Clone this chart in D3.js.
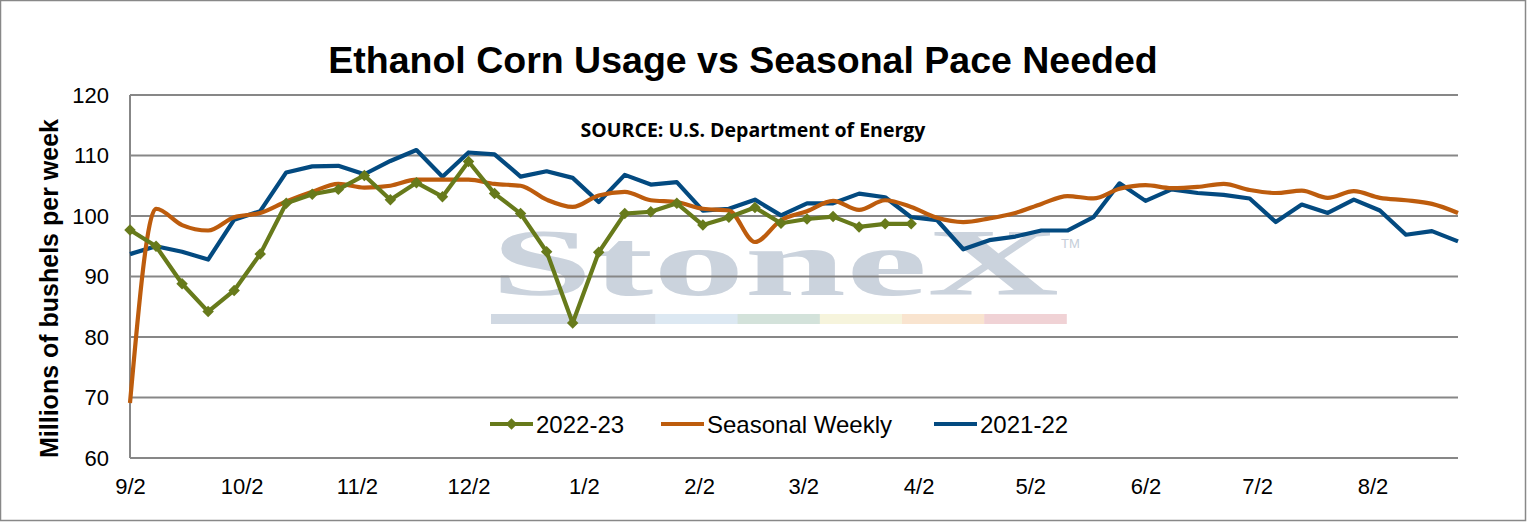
<!DOCTYPE html>
<html>
<head>
<meta charset="utf-8">
<script src="https://cdn.jsdelivr.net/npm/d3@7"></script>
<style>
  body { margin: 0; background: #fff; }
  text { font-family: "Liberation Sans", Arial, sans-serif; }
</style>
</head>
<body>
<div id="chart"></div>
<script>
// weekly dates (Fridays)
var weeks = ["2022-09-02","2022-09-09","2022-09-16","2022-09-23","2022-09-30",
  "2022-10-07","2022-10-14","2022-10-21","2022-10-28",
  "2022-11-04","2022-11-11","2022-11-18","2022-11-25",
  "2022-12-02","2022-12-09","2022-12-16","2022-12-23","2022-12-30",
  "2023-01-06","2023-01-13","2023-01-20","2023-01-27",
  "2023-02-03","2023-02-10","2023-02-17","2023-02-24",
  "2023-03-03","2023-03-10","2023-03-17","2023-03-24","2023-03-31",
  "2023-04-07","2023-04-14","2023-04-21","2023-04-28",
  "2023-05-05","2023-05-12","2023-05-19","2023-05-26",
  "2023-06-02","2023-06-09","2023-06-16","2023-06-23","2023-06-30",
  "2023-07-07","2023-07-14","2023-07-21","2023-07-28",
  "2023-08-04","2023-08-11","2023-08-18","2023-08-25"];

// millions of bushels per week
var usage2223 = [97.7, 95.0, 88.8, 84.2, 87.7, 93.7, 102.1, 103.6, 104.4, 106.7,
  102.7, 105.5, 103.2, 109.0, 103.7, 100.4, 94.1, 82.3, 94.0, 100.4,
  100.7, 102.1, 98.5, 99.8, 101.4, 98.8, 99.5, 99.9, 98.2, 98.7, 98.7];

var seasonal = [69.1, 101.2, 98.5, 97.6, 99.8, 100.5, 102.4, 104.0, 105.3, 104.7,
  105.0, 106.0, 106.0, 106.0, 105.3, 105.0, 102.7, 101.5, 103.4, 104.0,
  102.6, 102.3, 101.2, 100.9, 95.7, 99.3, 100.8, 102.5, 101.0, 102.6,
  101.5, 99.7, 99.0, 99.6, 100.5, 102.0, 103.3, 102.9, 104.5, 105.1,
  104.6, 104.8, 105.3, 104.3, 103.8, 104.2, 103.0, 104.1, 103.0, 102.6,
  102.0, 100.5];

var usage2122 = [93.7, 95.0, 94.1, 92.8, 99.4, 100.8, 107.2, 108.2, 108.3, 106.9,
  109.1, 110.9, 106.5, 110.5, 110.2, 106.5, 107.4, 106.3, 102.3, 106.8,
  105.2, 105.6, 100.9, 101.2, 102.7, 100.1, 102.1, 102.1, 103.7, 103.1,
  99.8, 99.3, 94.5, 96.0, 96.6, 97.6, 97.6, 99.8, 105.4, 102.5,
  104.4, 103.8, 103.5, 102.9, 99.0, 101.9, 100.5, 102.7, 100.9, 96.9,
  97.5, 95.8];

var tickDates = ["2022-09-02","2022-10-02","2022-11-02","2022-12-02","2023-01-02",
  "2023-02-02","2023-03-02","2023-04-02","2023-05-02","2023-06-02","2023-07-02","2023-08-02"];
var tickLabels = ["9/2","10/2","11/2","12/2","1/2","2/2","3/2","4/2","5/2","6/2","7/2","8/2"];
var yTicks = [60, 70, 80, 90, 100, 110, 120];

var W = 1527, H = 522;
var margin = {top: 95, right: 69, bottom: 64, left: 130};
var width = W - margin.left - margin.right;
var height = H - margin.top - margin.bottom;

var parse = d3.timeParse("%Y-%m-%d");
var dates = weeks.map(parse);

var svg = d3.select("#chart").append("svg")
    .attr("width", W)
    .attr("height", H);

// outer frame
svg.append("rect")
    .attr("x", 0.5).attr("y", 0.5)
    .attr("width", W - 2).attr("height", H - 2)
    .attr("fill", "#fff")
    .attr("stroke", "#888")
    .attr("stroke-width", 1.5);

svg.append("text")
    .attr("x", 743).attr("y", 73)
    .attr("text-anchor", "middle")
    .style("font-size", "37.5px")
    .style("font-weight", "bold")
    .text("Ethanol Corn Usage vs Seasonal Pace Needed");

var g = svg.append("g")
    .attr("transform", "translate(" + margin.left + "," + margin.top + ")");

var x = d3.scaleTime()
    .domain([dates[0], dates[dates.length - 1]])
    .range([0, width]);

var y = d3.scaleLinear()
    .domain([60, 120])
    .range([height, 0]);

// watermark
var wm = g.append("g");
wm.append("text")
    .attr("x", 491 - margin.left).attr("y", 295 - margin.top)
    .attr("textLength", 568)
    .attr("lengthAdjust", "spacingAndGlyphs")
    .style("font-family", "'Liberation Serif', 'DejaVu Serif', serif")
    .style("font-size", "96px")
    .style("font-weight", "bold")
    .attr("fill", "#cbd3dd")
    .text("StoneX");
wm.append("text")
    .attr("x", 1061 - margin.left).attr("y", 248 - margin.top)
    .style("font-size", "13px")
    .attr("fill", "#c5ced9")
    .text("TM");
var barColors = ["#d0d8e2", "#d0d8e2", "#dce8f2", "#d3e2da", "#f6f4dc", "#f9e4cf", "#f0d2d5"];
wm.selectAll("rect.band")
    .data(barColors)
    .enter().append("rect")
    .attr("class", "band")
    .attr("x", function(d, i) { return 491 - margin.left + i * 82.2; })
    .attr("y", 314 - margin.top)
    .attr("width", 82.6)
    .attr("height", 10)
    .attr("fill", function(d) { return d; });

// gridlines
g.append("g")
  .selectAll("line")
  .data(yTicks)
  .enter().append("line")
    .attr("x1", 0).attr("x2", width)
    .attr("y1", function(d) { return y(d); })
    .attr("y2", function(d) { return y(d); })
    .attr("stroke", "#878787")
    .attr("stroke-width", 2);

// axes
g.append("line")
    .attr("x1", 0).attr("x2", 0)
    .attr("y1", 0).attr("y2", height)
    .attr("stroke", "#878787")
    .attr("stroke-width", 2);

var yAxis = g.append("g")
    .call(d3.axisLeft(y).tickValues(yTicks).tickSize(0).tickPadding(21));
yAxis.select(".domain").remove();
yAxis.selectAll("text")
    .style("font-family", "'Liberation Sans', Arial, sans-serif")
    .style("font-size", "22px")
    .attr("fill", "#000");

var xAxis = g.append("g")
    .attr("transform", "translate(0," + height + ")")
    .call(d3.axisBottom(x)
        .tickValues(tickDates.map(parse))
        .tickFormat(function(d, i) { return tickLabels[i]; })
        .tickSize(0).tickPadding(20));
xAxis.select(".domain").remove();
xAxis.selectAll("text")
    .style("font-family", "'Liberation Sans', Arial, sans-serif")
    .style("font-size", "22px")
    .attr("fill", "#000");

svg.append("text")
    .attr("transform", "translate(58," + (margin.top + height / 2 + 12) + ") rotate(-90)")
    .attr("text-anchor", "middle")
    .style("font-size", "25px")
    .style("font-weight", "bold")
    .text("Millions of bushels per week");

svg.append("text")
    .attr("x", 753).attr("y", 137)
    .attr("text-anchor", "middle")
    .style("font-family", "'Open Sans', sans-serif")
    .style("font-size", "19.5px")
    .style("font-weight", "bold")
    .text("SOURCE: U.S. Department of Energy");

// series
var colGreen = "#677a1b", colOrange = "#bd5c0d", colBlue = "#034a80";

var line = d3.line()
    .x(function(d, i) { return x(dates[i]); })
    .y(function(d) { return y(d); });

g.append("path")
    .datum(usage2122)
    .attr("fill", "none")
    .attr("stroke", colBlue)
    .attr("stroke-width", 4.2)
    .attr("stroke-linejoin", "round")
    .attr("d", line);

g.append("path")
    .datum(seasonal)
    .attr("fill", "none")
    .attr("stroke", colOrange)
    .attr("stroke-width", 4.2)
    .attr("d", line.curve(d3.curveMonotoneX));

line.curve(d3.curveLinear);

g.append("path")
    .datum(usage2223)
    .attr("fill", "none")
    .attr("stroke", colGreen)
    .attr("stroke-width", 4.2)
    .attr("stroke-linejoin", "round")
    .attr("d", line);

var diamond = d3.symbol().type(d3.symbolSquare).size(66);
g.selectAll("path.mk")
    .data(usage2223)
    .enter().append("path")
    .attr("class", "mk")
    .attr("d", diamond)
    .attr("fill", colGreen)
    .attr("transform", function(d, i) {
      return "translate(" + x(dates[i]) + "," + y(d) + ") rotate(45)";
    });

// legend
var legend = [
  {name: "2022-23", color: colGreen, x: 490, marker: true},
  {name: "Seasonal Weekly", color: colOrange, x: 661, marker: false},
  {name: "2021-22", color: colBlue, x: 934, marker: false}
];
var ly = 424;
var lg = svg.selectAll("g.leg")
    .data(legend)
    .enter().append("g")
    .attr("class", "leg")
    .attr("transform", function(d) { return "translate(" + d.x + "," + ly + ")"; });
lg.append("line")
    .attr("x1", 0).attr("x2", 43)
    .attr("stroke", function(d) { return d.color; })
    .attr("stroke-width", 4.2);
lg.filter(function(d) { return d.marker; })
    .append("path")
    .attr("d", diamond)
    .attr("fill", function(d) { return d.color; })
    .attr("transform", "translate(21.5,0) rotate(45)");
lg.append("text")
    .attr("x", 46).attr("y", 9)
    .style("font-size", "24px")
    .text(function(d) { return d.name; });
</script>
</body>
</html>
